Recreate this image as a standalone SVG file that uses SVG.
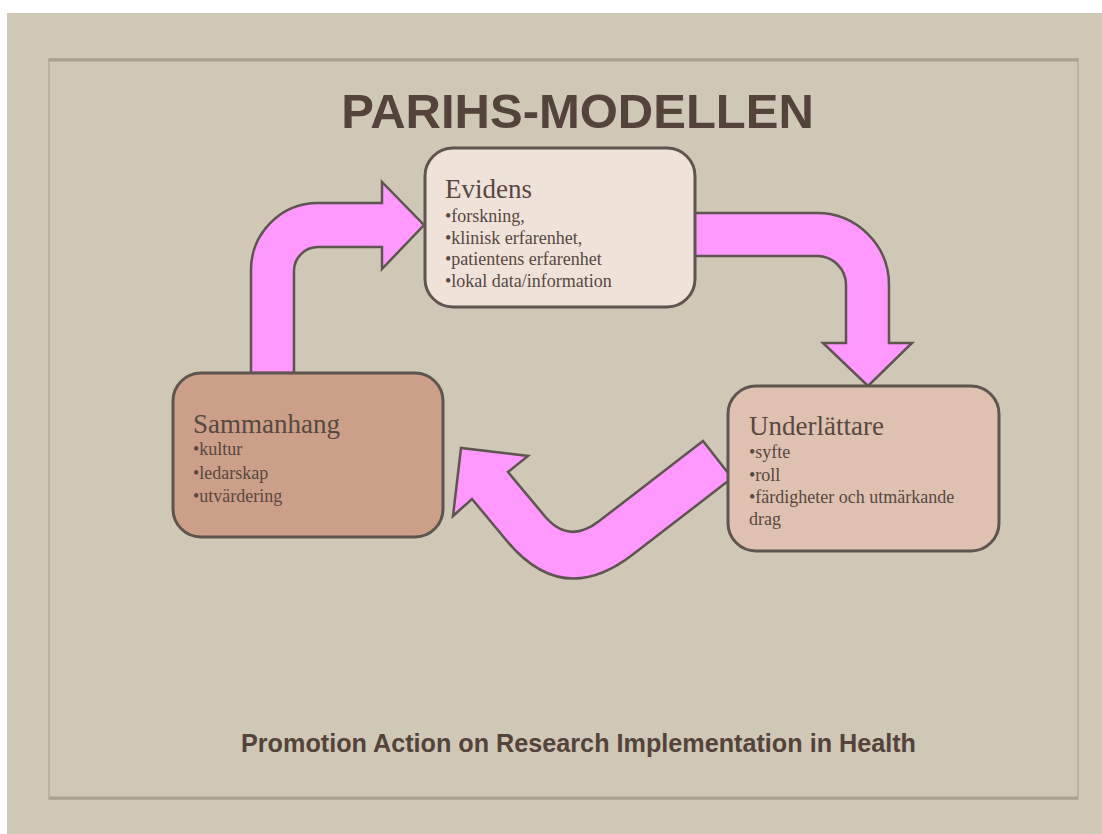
<svg xmlns="http://www.w3.org/2000/svg" width="1102" height="834" viewBox="0 0 1102 834">
<style>
.box{stroke:#5e5550;stroke-width:3}
.arrow{fill:#ff99ff;stroke:#5e5550;stroke-width:2.5;stroke-linejoin:miter}
.head{font-family:"Liberation Serif","Times New Roman",serif;font-size:27px;fill:#574841}
.item{font-family:"Liberation Serif","Times New Roman",serif;font-size:18px;fill:#574841}
.title{font-family:"Liberation Sans",Arial,sans-serif;font-weight:bold;fill:#53433a}
</style>
<rect x="0" y="0" width="1102" height="834" fill="#ffffff"/>
<rect x="7" y="13" width="1095" height="821" fill="#d0c9b7"/>
<rect x="49" y="59" width="1029" height="740" fill="#cfc8b6" stroke="#bab2a1" stroke-width="2"/>
<line x1="49" y1="60" x2="1078" y2="60" stroke="#aaa191" stroke-width="3"/>
<line x1="49" y1="798" x2="1078" y2="798" stroke="#aaa191" stroke-width="3"/>
<text class="title" x="577.5" y="127.7" font-size="49" text-anchor="middle">PARIHS-MODELLEN</text>
<text class="title" x="578.5" y="752" font-size="26" text-anchor="middle" textLength="675" lengthAdjust="spacingAndGlyphs">Promotion Action on Research Implementation in Health</text>
<g id="connectors">
<path class="arrow" d="M251,373 L251,270 A67,67 0 0 1 318,203 L382,203 L382,182 L424,225 L382,269 L382,247 L318,247 A24,24 0 0 0 294,271 L294,373 Z"/>
<path class="arrow" d="M690,213 L817,213 A72,72 0 0 1 889,285 L889,343 L912,343 L868,386 L823,343 L846,343 L846,285 A29,29 0 0 0 817,256 L690,256 Z"/>
<path class="arrow" d="M703,441 L598.5,521.6 Q568.5,544.8 544.2,515.5 L508,472 L528,456 L461,448 L453,516 L472,499 L506.7,540.7 Q563,608.5 632.5,554.8 L732,478 Z"/>
</g>
<g id="evidens">
<rect class="box" x="425" y="148" width="270" height="159" rx="28" fill="#efe2d9"/>
<text class="head" x="445" y="198">Evidens</text>
<text class="item" x="445" y="222">•forskning,</text>
<text class="item" x="445" y="243.5">•klinisk erfarenhet,</text>
<text class="item" x="445" y="265">•patientens erfarenhet</text>
<text class="item" x="445" y="286.5">•lokal data/information</text>
</g>
<g id="sammanhang">
<rect class="box" x="173" y="373" width="270" height="164" rx="28" fill="#cc9f88"/>
<text class="head" x="193" y="433">Sammanhang</text>
<text class="item" x="193" y="455">•kultur</text>
<text class="item" x="193" y="478.5">•ledarskap</text>
<text class="item" x="193" y="501.5">•utvärdering</text>
</g>
<g id="underlattare">
<rect class="box" x="728" y="386" width="271" height="165" rx="28" fill="#dfc1b1"/>
<text class="head" x="749" y="435">Underlättare</text>
<text class="item" x="749" y="458">•syfte</text>
<text class="item" x="749" y="481">•roll</text>
<text class="item" x="749" y="503">•färdigheter och utmärkande</text>
<text class="item" x="749" y="524.5">drag</text>
</g>
</svg>
